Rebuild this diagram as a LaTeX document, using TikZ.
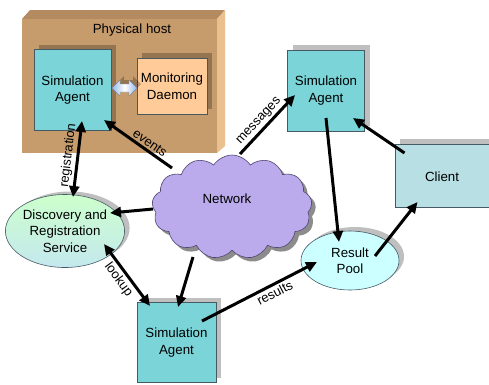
\documentclass[tikz,border=0pt]{standalone}
\usepackage{fontspec}
\setmainfont{Liberation Sans}
\usetikzlibrary{shapes.symbols,shapes.geometric,arrows.meta,shadows,calc}
\definecolor{agentc}{RGB}{122,212,216}
\definecolor{daemonc}{RGB}{255,204,153}
\definecolor{clientc}{RGB}{184,224,228}
\definecolor{poolc}{RGB}{204,255,255}
\definecolor{disctop}{RGB}{204,255,204}
\definecolor{discbot}{RGB}{196,232,238}
\definecolor{cloudc}{RGB}{187,170,236}
\definecolor{cloudedge}{RGB}{80,70,110}
\definecolor{hostfront}{RGB}{198,156,109}
\definecolor{hosttop}{RGB}{180,138,96}
\definecolor{hostside}{RGB}{234,192,142}
\definecolor{edgec}{RGB}{70,90,100}
\definecolor{arrblue}{RGB}{150,185,235}
\definecolor{arredge}{RGB}{120,140,180}
\begin{document}
\begin{tikzpicture}[x=1pt,y=-1pt,
  font=\fontsize{13.3}{16.5}\selectfont,
  boxshadow/.style={general shadow={shadow xshift=5pt,shadow yshift=5pt,fill=black,opacity=0.25}},
  agentbox/.style={rectangle,draw=edgec,line width=0.6pt,fill=agentc,align=center,
    minimum width=77pt,minimum height=81pt,inner sep=0pt,boxshadow},
  conn/.style={line width=3pt,-{Triangle[length=11pt,width=10pt]}},
  dconn/.style={line width=3pt,{Triangle[length=11pt,width=10pt]}-{Triangle[length=11pt,width=10pt]}},
  lbl/.style={font=\fontsize{13}{15}\selectfont,inner sep=2pt}]
\useasboundingbox (0,0) rectangle (489,384);
% physical host box
\fill[hosttop] (22,19) -- (30,10) -- (225,10) -- (217,19) -- cycle;
\fill[hostside] (217,19) -- (225,10) -- (225,146) -- (217,153) -- cycle;
\fill[hostfront] (22,19) rectangle (217,153);
\node (host) at (132,30) {Physical host};
% nodes
\node[agentbox] (a1) at (72.5,90) {Simulation\\Agent};
\node[rectangle,draw=edgec,line width=0.6pt,fill=daemonc,align=center,
  minimum width=70pt,minimum height=56pt,inner sep=0pt,boxshadow] (md) at (172,86) {Monitoring\\Daemon};
\node[agentbox] (a2) at (326,90.5) {Simulation\\Agent};
\node[rectangle,draw=edgec,line width=0.6pt,fill=clientc,
  minimum width=97pt,minimum height=63pt,inner sep=0pt,boxshadow] (cl) at (443.5,175.5) {};
\node at (442,177) {Client};
\node[cloud,cloud puffs=13,cloud puff arc=115,aspect=1.6,draw=cloudedge,
  line width=0.6pt,fill=cloudc,minimum width=160pt,minimum height=104pt,inner sep=0pt,
  general shadow={shadow xshift=4pt,shadow yshift=-4pt,fill=black,opacity=0.45}] (net) at (232,207) {};
\node at (227,199) {Network};
\node[ellipse,draw=edgec,line width=0.6pt,top color=disctop,bottom color=discbot,
  minimum width=114pt,minimum height=73pt,inner sep=0pt,align=center,
  general shadow={shadow xshift=5pt,shadow yshift=3pt,fill=black,opacity=0.25}] (ds) at (65,231) {Discovery and\\Registration\\Service};
\node[ellipse,draw=edgec,line width=0.6pt,fill=poolc,
  minimum width=98pt,minimum height=59pt,inner sep=0pt,align=center,
  general shadow={shadow xshift=5pt,shadow yshift=4pt,fill=black,opacity=0.25}] (rp) at (350,260.5) {Result\\Pool};
\node[agentbox,minimum width=79pt,minimum height=80pt] (a3) at (176.5,342.5) {Simulation\\Agent};
% double arrow between agent and daemon
\fill[black,opacity=0.25] (116,84) -- (124,76) -- (124,80) -- (133,80) -- (133,76) -- (141,84) -- (133,92) -- (133,88) -- (124,88) -- (124,92) -- cycle;
\shade[left color=arrblue,right color=arrblue,middle color=white,draw=arredge,line width=0.4pt]
  (112,88) -- (120,80) -- (120,84) -- (129,84) -- (129,80) -- (137,88) -- (129,96) -- (129,92) -- (120,92) -- (120,96) -- cycle;
% connectors
\draw[dconn] ([shift={(8,-34)}]ds.center) -- node[lbl,sloped,above,pos=0.53] {registration} ([shift={(9.5,31)}]a1.center);
\draw[conn] ([shift={(-60,-39)}]net.center) -- node[lbl,sloped,above,pos=0.39] {events} ([shift={(31.5,30)}]a1.center);
\draw[conn] ([shift={(8,-53)}]net.center) -- node[lbl,sloped,above,pos=0.46] {messages} ([shift={(-31,4.5)}]a2.center);
\draw[conn] ([shift={(-79,2)}]net.center) -- ([shift={(45,-18)}]ds.center);
\draw[conn] ([shift={(-39,50)}]net.center) -- ([shift={(1.5,-35.5)}]a3.center);
\draw[dconn] ([shift={(39,13)}]ds.center) -- node[lbl,sloped,below,pos=0.48] {lookup} ([shift={(-26.5,-36.5)}]a3.center);
\draw[conn] ([shift={(25.5,-21.5)}]a3.center) -- node[lbl,sloped,below,pos=0.6] {results} ([shift={(-33,1.5)}]rp.center);
\draw[conn] ([shift={(0,27.5)}]a2.center) -- ([shift={(-11,-18.5)}]rp.center);
\draw[conn] ([shift={(25,-4.5)}]rp.center) -- ([shift={(-26,26.5)}]cl.center);
\draw[conn] ([shift={(-39,-22.5)}]cl.center) -- ([shift={(27,27.5)}]a2.center);
\end{tikzpicture}
\end{document}
